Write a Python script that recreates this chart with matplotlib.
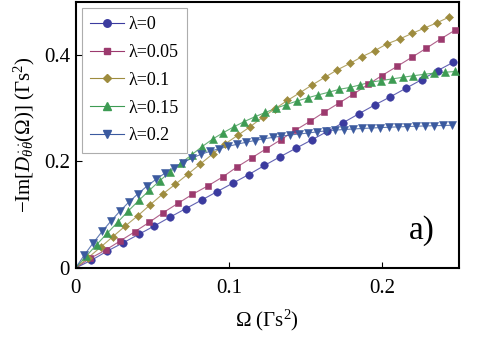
import matplotlib
matplotlib.use("Agg")
import matplotlib.pyplot as plt

plt.rcParams['font.family'] = ['Liberation Serif', 'DejaVu Serif']
plt.rcParams['mathtext.fontset'] = 'custom'
plt.rcParams['mathtext.rm'] = 'Liberation Serif'
plt.rcParams['mathtext.it'] = 'Liberation Serif:italic'
plt.rcParams['mathtext.bf'] = 'Liberation Serif:bold'

labels = ["λ=0", "λ=0.05", "λ=0.1", "λ=0.15", "λ=0.2"]

x0 = [0, 0.0103, 0.0205, 0.0308, 0.0411, 0.0514, 0.0616, 0.0719, 0.0822, 0.0924,
      0.1027, 0.1130, 0.1232, 0.1335, 0.1438, 0.1541, 0.1643, 0.1746, 0.1849,
      0.1951, 0.2054, 0.2157, 0.2259, 0.2362, 0.2465]
y0 = [0, 0.0145, 0.0315, 0.047, 0.063, 0.079, 0.0955, 0.1115, 0.1275, 0.1435,
      0.1595, 0.1755, 0.1925, 0.209, 0.2249, 0.2406, 0.2566, 0.2729, 0.2897,
      0.306, 0.3215, 0.3378, 0.3538, 0.3707, 0.3864]

x1 = [0, 0.0094, 0.0196, 0.0293, 0.0386, 0.0479, 0.0570, 0.0667, 0.0761, 0.0862,
      0.0960, 0.1053, 0.1148, 0.1241, 0.1339, 0.1432, 0.1529, 0.1622, 0.1718,
      0.1813, 0.1908, 0.1999, 0.2099, 0.2194, 0.2287, 0.2382, 0.2477]
y1 = [0, 0.018, 0.0337, 0.0511, 0.068, 0.0855, 0.1036, 0.1212, 0.1381, 0.154,
      0.171, 0.1897, 0.2066, 0.2234, 0.2408, 0.2584, 0.2753, 0.2927, 0.3096,
      0.3266, 0.3446, 0.3614, 0.3789, 0.3957, 0.4125, 0.4301, 0.4469]

x2 = [0, 0.0081, 0.0163, 0.0244, 0.0325, 0.0406, 0.0488, 0.0569, 0.0650, 0.0732,
      0.0813, 0.0894, 0.0976, 0.1057, 0.1138, 0.1220, 0.1301, 0.1382, 0.1463,
      0.1545, 0.1626, 0.1707, 0.1789, 0.1870, 0.1951, 0.2033, 0.2114, 0.2195,
      0.2276, 0.2358, 0.2439]
y2 = [0, 0.019, 0.039, 0.059, 0.079, 0.098, 0.119, 0.139, 0.157, 0.176,
      0.195, 0.214, 0.233, 0.249, 0.265, 0.283, 0.299, 0.3146, 0.329,
      0.344, 0.358, 0.372, 0.384, 0.397, 0.408, 0.421, 0.430, 0.4405,
      0.4505, 0.4605, 0.4715]

x3 = [0, 0.0069, 0.0138, 0.0206, 0.0275, 0.0344, 0.0413, 0.0482, 0.0550, 0.0619,
      0.0688, 0.0757, 0.0826, 0.0894, 0.0963, 0.1032, 0.1101, 0.1170, 0.1238,
      0.1307, 0.1376, 0.1445, 0.1514, 0.1582, 0.1651, 0.1720, 0.1789, 0.1858,
      0.1926, 0.1995, 0.2064, 0.2133, 0.2202, 0.2270, 0.2339, 0.2408, 0.2477]
y3 = [0, 0.022, 0.044, 0.065, 0.086, 0.107, 0.127, 0.146, 0.164, 0.181,
      0.197, 0.2125, 0.228, 0.242, 0.254, 0.265, 0.275, 0.284, 0.292,
      0.300, 0.307, 0.3135, 0.3195, 0.325, 0.330, 0.3355, 0.339, 0.344,
      0.349, 0.352, 0.355, 0.358, 0.361, 0.3635, 0.366, 0.3675, 0.369]

x4 = [0, 0.0058, 0.0117, 0.0175, 0.0234, 0.0292, 0.0350, 0.0409, 0.0467, 0.0526,
      0.0584, 0.0642, 0.0701, 0.0759, 0.0818, 0.0876, 0.0934, 0.0993, 0.1051,
      0.1110, 0.1168, 0.1226, 0.1285, 0.1343, 0.1402, 0.1460, 0.1518, 0.1577,
      0.1635, 0.1694, 0.1752, 0.1810, 0.1869, 0.1927, 0.1986, 0.2044, 0.2102,
      0.2161, 0.2219, 0.2278, 0.2336, 0.2394, 0.2453]
y4 = [0, 0.0247, 0.0478, 0.0692, 0.0891, 0.1075, 0.1244, 0.1398, 0.1540, 0.1667,
      0.1783, 0.1887, 0.1980, 0.2062, 0.2135, 0.2190, 0.2238, 0.2282, 0.2322,
      0.2360, 0.2394, 0.2425, 0.2452, 0.2476, 0.2498, 0.2517, 0.2534, 0.2558,
      0.2575, 0.2590, 0.2600, 0.2610, 0.2620, 0.2628, 0.2636, 0.2643, 0.2650,
      0.2656, 0.2662, 0.2667, 0.2672, 0.2676, 0.2680]

xs = [x0, x1, x2, x3, x4]
ys = [y0, y1, y2, y3, y4]
colors = ["#3b3b9f", "#9c3a6e", "#9e8c3e", "#3d9b53", "#3b5a9f"]
markers = ["o", "s", "D", "^", "v"]
msizes = [5.4, 4.7, 4.0, 5.2, 5.2]

fig = plt.figure(figsize=(4.85, 3.41), dpi=100)
ax = fig.add_axes([0.1557, 0.214, 0.7903, 0.781])

for x, y, c, m, ms, lab in zip(xs, ys, colors, markers, msizes, labels):
    ax.plot(x, y, color=c, lw=0.8, alpha=0.8, zorder=2)
    ax.plot(x[1:], y[1:], linestyle='none', marker=m, ms=ms, color=c,
            mec=c, mew=0.4, zorder=3)
    ax.plot([], [], color=c, lw=0.8, marker=m, ms=ms, mec=c, label=lab)

ax.set_xlim(0, 0.25)
ax.set_ylim(0, 0.5)
ax.set_xticks([0, 0.1, 0.2])
ax.set_xticklabels(["0", "0.1", "0.2"])
ax.set_yticks([0, 0.2, 0.4])
ax.set_yticklabels(["0", "0.2", "0.4"])
ax.tick_params(direction='in', length=4, width=0.8, labelsize=15,
               top=False, right=False)
ax.tick_params(axis='x', pad=8)
ax.tick_params(axis='y', pad=4)
for s in ax.spines.values():
    s.set_linewidth(1.5)

ax.set_xlabel(r'$\Omega$ ($\Gamma$s$^2$)', fontsize=15, labelpad=7)
ax.set_ylabel(r'$-\mathrm{Im}[D_{\dot{\theta}\dot{\theta}}(\Omega)]$ ($\Gamma$s$^2$)',
              fontsize=15, labelpad=5)

leg = ax.legend(loc='upper left', fontsize=13, frameon=True, fancybox=False,
                edgecolor='#999999', handlelength=1.9, handletextpad=0.25,
                labelspacing=0.6, borderpad=0.45, borderaxespad=0.35)
leg.get_frame().set_linewidth(0.8)

ax.text(0.226, 0.071, 'a)', fontsize=24, ha='center', va='center')

fig.savefig('out.png', dpi=100)
